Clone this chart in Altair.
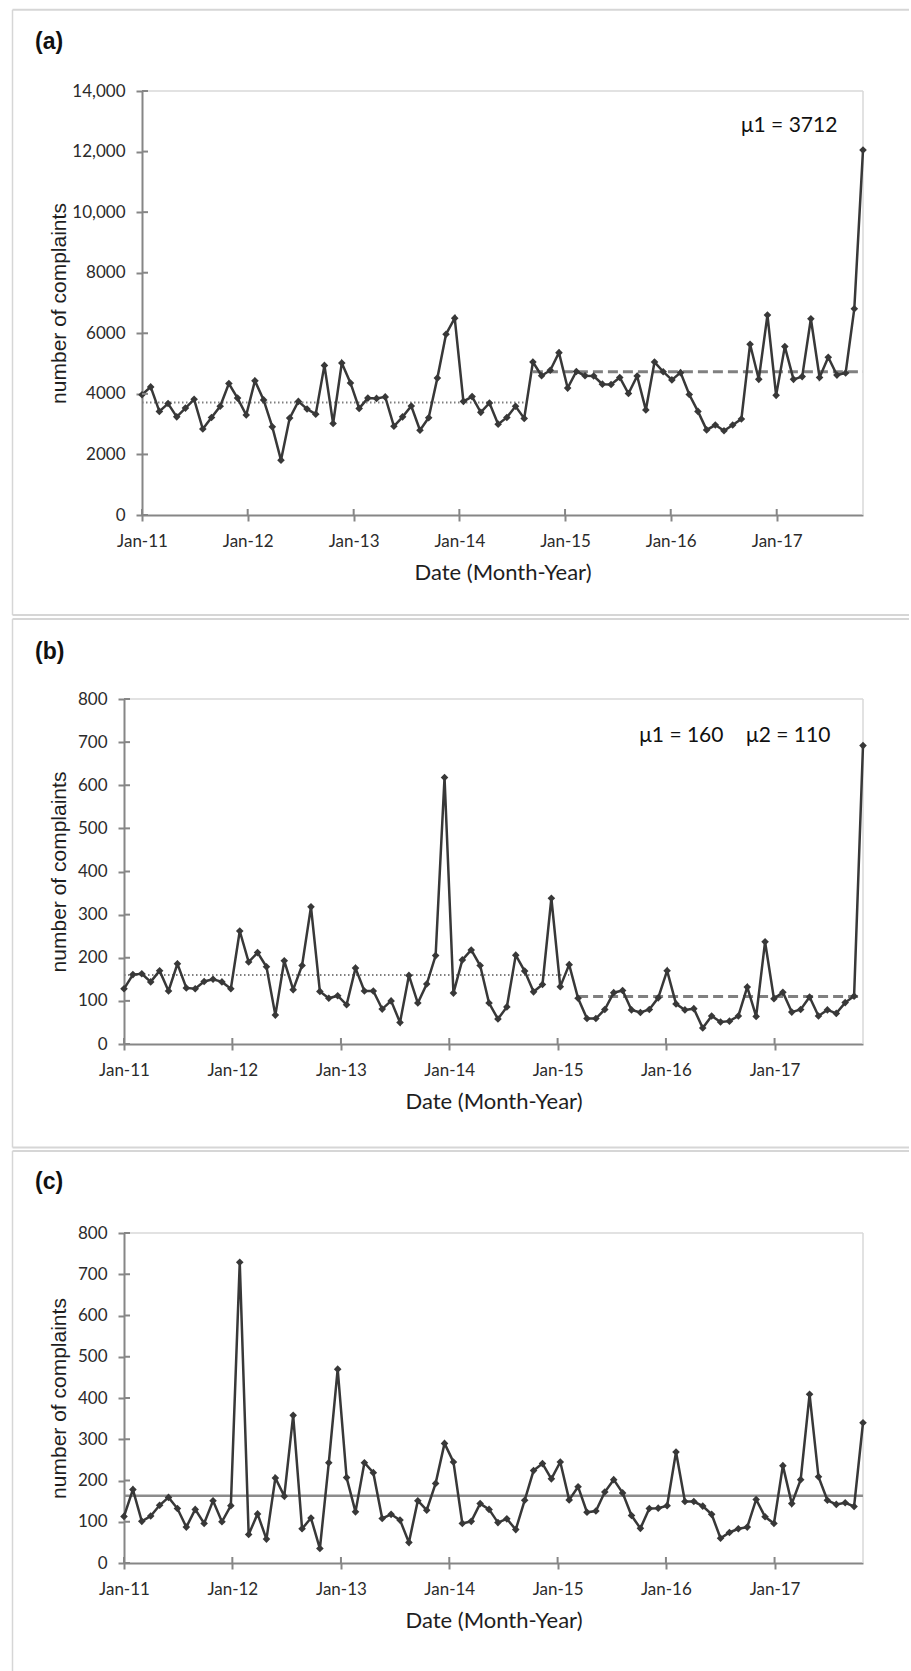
import altair as alt
import pandas as pd

# ------------------------------------------------------------------ data
START_DATE = "2011-01-01"
STEP_DAYS = 30          # the Excel date axis placed the monthly points 30 days apart
N_POINTS = 84           # Jan-2011 ... Dec-2017

A_VALUES = [3970, 4230, 3420, 3680, 3240, 3530, 3820, 2840, 3220, 3590, 4340, 3860,
            3300, 4430, 3800, 2910, 1810, 3200, 3750, 3500, 3330, 4940, 3020, 5020,
            4360, 3520, 3860, 3850, 3900, 2930, 3240, 3600, 2800, 3210, 4520, 5970,
            6500, 3750, 3910, 3390, 3700, 3000, 3220, 3590, 3190, 5050, 4600, 4780,
            5360, 4190, 4740, 4600, 4590, 4320, 4310, 4540, 4010, 4590, 3470, 5050,
            4730, 4460, 4700, 3980, 3420, 2810, 2970, 2780, 2970, 3170, 5640, 4480,
            6600, 3950, 5560, 4480, 4570, 6480, 4540, 5210, 4620, 4690, 6810, 12050]

B_VALUES = [128, 161, 163, 144, 170, 123, 186, 130, 128, 145, 150, 144,
            128, 262, 190, 212, 179, 67, 193, 126, 182, 318, 122, 106,
            112, 91, 176, 123, 123, 81, 100, 50, 159, 95, 139, 205,
            618, 118, 195, 218, 182, 95, 58, 86, 206, 169, 121, 138,
            338, 133, 184, 106, 59, 59, 80, 119, 124, 79, 73, 80,
            107, 170, 93, 79, 82, 37, 65, 51, 53, 65, 132, 64,
            237, 105, 120, 74, 80, 109, 65, 79, 71, 96, 111, 692]

C_VALUES = [113, 178, 101, 114, 140, 159, 132, 87, 130, 96, 151, 100,
            139, 729, 69, 119, 58, 206, 162, 358, 83, 109, 35, 243,
            470, 207, 124, 243, 219, 108, 118, 104, 50, 151, 128, 193,
            290, 245, 96, 101, 144, 130, 98, 107, 81, 152, 224, 241,
            204, 245, 153, 185, 123, 126, 172, 202, 170, 115, 84, 132,
            133, 139, 269, 149, 149, 138, 118, 60, 74, 83, 87, 154,
            112, 96, 236, 144, 202, 409, 209, 152, 142, 146, 137, 340]

assert len(A_VALUES) == len(B_VALUES) == len(C_VALUES) == N_POINTS

# mean segments: (first point index, last point index, level, style)
A_MEANS = [(0, 44, 3712, "dotted"), (45, 83, 4730, "dashed")]
B_MEANS = [(0, 50, 160, "dotted"), (51, 83, 110, "dashed")]
C_MEANS = [(0, 83, 163, "solid")]

# annotations: (point-index position, level, text)
A_NOTES = [(74.5, 12850, "μ1 = 3712")]
B_NOTES = [(62.6, 715, "μ1 = 160"), (74.6, 715, "μ2 = 110")]
C_NOTES = []

PANEL_LABELS = ["(a)", "(b)", "(c)"]
Y_TICKS_A = [0, 2000, 4000, 6000, 8000, 10000, 12000, 14000]
Y_LABELS_A = ["0", "2000", "4000", "6000", "8000", "10,000", "12,000", "14,000"]
Y_TICKS_BC = [0, 100, 200, 300, 400, 500, 600, 700, 800]
Y_LABELS_BC = ["0", "100", "200", "300", "400", "500", "600", "700", "800"]
TICK_YEARS = [2011, 2012, 2013, 2014, 2015, 2016, 2017]
X_TICK_LABELS = ["Jan-11", "Jan-12", "Jan-13", "Jan-14", "Jan-15", "Jan-16", "Jan-17"]
X_TITLE = "Date (Month-Year)"
Y_TITLE = "number of complaints"

# ------------------------------------------------------------------ styling
W = 739
GRAY = "#868686"
FRAME = "#d9d9d9"
BOX = "#d6d6d6"
INK = "#383838"
TEXT = "#2b2b2b"
TEXT_DARK = "#1e1e1e"
LABEL_FONT = "Lato"
ARIAL = "Liberation Sans"

MEAN_STYLE = {
    "dotted": dict(color="#7f7f7f", strokeWidth=2, strokeDash=[1.5, 2.5]),
    "dashed": dict(color="#808080", strokeWidth=3, strokeDash=[10, 5]),
    "solid": dict(color="#8c8c8c", strokeWidth=2.5),
}


def ts(idx):
    return pd.Timestamp(START_DATE) + pd.Timedelta(days=STEP_DAYS * idx)


def iso(t):
    return t.strftime("%Y-%m-%dT%H:%M:%S")


def dt(t):
    return alt.DateTime(year=t.year, month=t.month, date=t.day)


DATES = [iso(ts(i)) for i in range(N_POINTS)]
X_DOMAIN = [dt(ts(0)), dt(ts(N_POINTS - 1))]
X_TICK_VALUES = [alt.DateTime(year=y, month=1, date=1) for y in TICK_YEARS]
X_TICK_DATES = [f"{y}-01-01T00:00:00" for y in TICK_YEARS]


def js_list(items):
    return "[" + ",".join("'" + s + "'" for s in items) + "]"


def make_panel(values, label, y_ticks, y_labels, height, x0, title_x, means,
               notes, box_top, box_bottom, draw_bottom, label_y):
    step = y_ticks[1] - y_ticks[0]
    xscale = alt.Scale(domain=X_DOMAIN, range=[x0, W], nice=False)
    yscale = alt.Scale(domain=[y_ticks[0], y_ticks[-1]], nice=False)
    xaxis = alt.Axis(
        values=X_TICK_VALUES,
        labelExpr=js_list(X_TICK_LABELS) + f"[year(datum.value)-{TICK_YEARS[0]}]",
        grid=False, domainColor=GRAY, domainWidth=2, tickColor=GRAY, tickWidth=2,
        tickSize=6, labelFont=LABEL_FONT, labelFontSize=17, labelColor=TEXT,
        labelPadding=12, labelFlush=False, labelOverlap=False,
        title=X_TITLE, titleFont=LABEL_FONT, titleFontSize=22,
        titleFontWeight="normal", titleColor=TEXT_DARK, titleY=57,
        titleBaseline="middle",
    )
    yaxis = alt.Axis(
        values=y_ticks,
        labelExpr=js_list(y_labels) + f"[round(datum.value/{step})]",
        grid=False, domainColor=GRAY, domainWidth=2, tickColor=GRAY, tickWidth=2,
        tickSize=6, labelFont=LABEL_FONT, labelFontSize=17, labelColor=TEXT,
        labelPadding=11, title=Y_TITLE, titleFont=ARIAL, titleFontSize=21,
        titleFontWeight="normal", titleColor=TEXT_DARK, titleX=title_x,
        titleY=height / 2, titleAngle=270, titleAlign="center",
        titleBaseline="middle", offset=-x0,
    )

    def X(field):
        return alt.X(f"{field}:T", scale=xscale, axis=xaxis)

    def Y(field):
        return alt.Y(f"{field}:Q", scale=yscale, axis=yaxis)

    one = pd.DataFrame({"k": [0]})
    layers = []

    # panel box (left / top / bottom borders)
    BX, BR = -111.5, 785
    layers.append(alt.Chart(one).mark_rule(color=BOX, strokeWidth=1.5).encode(
        x=alt.value(BX), y=alt.value(box_top), y2=alt.value(box_bottom)))
    layers.append(alt.Chart(one).mark_rule(color=BOX, strokeWidth=2).encode(
        x=alt.value(BX), x2=alt.value(BR), y=alt.value(box_top)))
    if draw_bottom:
        layers.append(alt.Chart(one).mark_rule(color=BOX, strokeWidth=2).encode(
            x=alt.value(BX), x2=alt.value(BR), y=alt.value(box_bottom)))

    # plot-area frame (top / right)
    layers.append(alt.Chart(one).mark_rule(color=FRAME, strokeWidth=1.5).encode(
        x=alt.value(x0), x2=alt.value(W), y=alt.value(0)))
    layers.append(alt.Chart(one).mark_rule(color=FRAME, strokeWidth=1.5).encode(
        x=alt.value(W), y=alt.value(0), y2=alt.value(height)))

    # mean levels
    for style in ["dotted", "dashed", "solid"]:
        segs = [m for m in means if m[3] == style]
        if not segs:
            continue
        mdf = pd.DataFrame({
            "start": [iso(ts(s[0])) for s in segs],
            "end": [iso(ts(s[1])) for s in segs],
            "level": [s[2] for s in segs],
        })
        layers.append(alt.Chart(mdf).mark_rule(**MEAN_STYLE[style]).encode(
            x=X("start"), x2="end:T", y=Y("level")))

    # series
    sdf = pd.DataFrame({"date": DATES, "value": values})
    layers.append(alt.Chart(sdf).mark_line(color=INK, strokeWidth=2.5).encode(
        x=X("date"), y=Y("value")))
    layers.append(alt.Chart(sdf).mark_point(shape="diamond", filled=True, size=58,
                                            color=INK, opacity=1).encode(
        x=X("date"), y=Y("value")))

    # inner halves of the crossing tick marks
    ytdf = pd.DataFrame({"v": y_ticks})
    layers.append(alt.Chart(ytdf).mark_rule(color=GRAY, strokeWidth=2).encode(
        y=Y("v"), x=alt.value(x0), x2=alt.value(x0 + 6)))
    xtdf = pd.DataFrame({"d": X_TICK_DATES})
    layers.append(alt.Chart(xtdf).mark_rule(color=GRAY, strokeWidth=2).encode(
        x=X("d"), y=alt.value(height), y2=alt.value(height - 6)))

    # panel label
    ldf = pd.DataFrame({"label": [label]})
    layers.append(alt.Chart(ldf).mark_text(
        align="left", baseline="middle", font=ARIAL, fontWeight="bold",
        fontSize=23, color="#111111").encode(
        x=alt.value(-89), y=alt.value(label_y), text="label:N"))

    # mean annotations
    if notes:
        ndf = pd.DataFrame({
            "date": [iso(ts(n[0])) for n in notes],
            "level": [n[1] for n in notes],
            "note": [n[2] for n in notes],
        })
        layers.append(alt.Chart(ndf).mark_text(
            align="center", baseline="middle", font=LABEL_FONT, fontSize=21,
            color="#111111").encode(x=X("date"), y=Y("level"), text="note:N"))

    return alt.layer(*layers).properties(width=W, height=height)


pa = make_panel(A_VALUES, PANEL_LABELS[0], Y_TICKS_A, Y_LABELS_A, 424, 18, -83,
                A_MEANS, A_NOTES, -81.3, 524, True, -49)
pb = make_panel(B_VALUES, PANEL_LABELS[1], Y_TICKS_BC, Y_LABELS_BC, 345, 0, -65,
                B_MEANS, B_NOTES, -80, 448.5, True, -47.4)
pc = make_panel(C_VALUES, PANEL_LABELS[2], Y_TICKS_BC, Y_LABELS_BC, 330, 0, -65,
                C_MEANS, C_NOTES, -82, 438, False, -51.4)

chart = alt.concat(pa, pb, pc, columns=1, spacing=0, align="none", bounds="full").properties(
    padding={"left": 11, "top": 8, "right": 0, "bottom": 0},
    background="white",
).configure_view(stroke="transparent")

chart.save("out.html", embed_options={"renderer": "svg", "actions": False})
